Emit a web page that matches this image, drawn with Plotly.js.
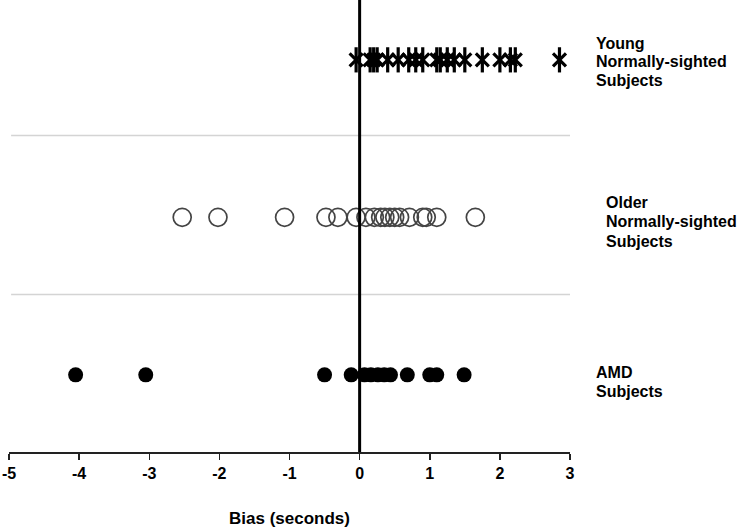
<!DOCTYPE html>
<html>
<head>
<meta charset="utf-8">
<script src="https://cdn.plot.ly/plotly-3.0.1.min.js"></script>
<style>html,body{margin:0;padding:0;background:#fff;}#chart{width:739px;height:528px;}</style>
</head>
<body>
<div id="chart"></div>
<script>
// Row labels (top to bottom)
var groupLabels = ["Young<br>Normally-sighted<br>Subjects", "Older<br>Normally-sighted<br>Subjects", "AMD<br>Subjects"];
var rowPos = [2, 1, 0];

// Bias values (seconds)
var youngBias = [-0.05, 0.15, 0.2, 0.25, 0.4, 0.55, 0.7, 0.8, 0.9, 1.1, 1.15, 1.25, 1.35, 1.5, 1.75, 2.0, 2.15, 2.22, 2.85];
var olderBias = [-2.53, -2.02, -1.07, -0.48, -0.31, -0.05, 0.09, 0.21, 0.3, 0.36, 0.43, 0.5, 0.57, 0.71, 0.9, 0.95, 1.1, 1.65];
var amdBias = [-4.05, -3.05, -0.5, -0.12, 0.07, 0.16, 0.26, 0.35, 0.44, 0.68, 1.0, 1.1, 1.49];

var xTicks = [-5, -4, -3, -2, -1, 0, 1, 2, 3];

function rowArr(vals, pos) { return vals.map(function(){ return pos; }); }

var traces = [
  {x: youngBias, y: rowArr(youngBias, rowPos[0]), mode: 'markers', type: 'scatter', hoverinfo: 'x',
   marker: {symbol: 'x-thin-open', size: 13, color: '#000', line: {color: '#000', width: 3.2}}},
  {x: youngBias, y: rowArr(youngBias, rowPos[0]), mode: 'markers', type: 'scatter', hoverinfo: 'x',
   marker: {symbol: 'line-ns-open', size: 18, color: '#000', line: {color: '#000', width: 3.2}}},
  {x: olderBias, y: rowArr(olderBias, rowPos[1]), mode: 'markers', type: 'scatter', hoverinfo: 'x',
   marker: {symbol: 'circle-open', size: 18, color: '#444', line: {color: '#444', width: 1.7}}},
  {x: amdBias, y: rowArr(amdBias, rowPos[2]), mode: 'markers', type: 'scatter', hoverinfo: 'x',
   marker: {symbol: 'circle', size: 15, color: '#000'}}
];

// label placement: [x (paper), yshift of each line in px]
var labelX = [1.043, 1.061, 1.043];
var labelShifts = [[16, -2, -21], [15, -4, -24], [2, -17]];
var annotations = [];
groupLabels.forEach(function(lbl, i) {
  lbl.split('<br>').forEach(function(line, j) {
    annotations.push({text: line, xref: 'paper', yref: 'y', x: labelX[i], y: rowPos[i], yshift: labelShifts[i][j],
      xanchor: 'left', yanchor: 'middle', align: 'left', showarrow: false,
      font: {family: 'Liberation Sans, Arial', size: 16, color: '#000', weight: 'bold'}});
  });
});

var layout = {
  width: 739, height: 528,
  margin: {l: 9, r: 169, t: 0, b: 76},
  paper_bgcolor: '#fff', plot_bgcolor: '#fff',
  showlegend: false,
  xaxis: {
    range: [-5, 3], tickvals: xTicks, ticktext: xTicks.map(String),
    showgrid: false, zeroline: false, showline: true, linecolor: '#222', linewidth: 1.5,
    ticks: 'outside', ticklen: 6, tickwidth: 1.5, tickcolor: '#222',
    ticklabeloverflow: 'allow',
    tickfont: {family: 'Liberation Sans, Arial', size: 16, color: '#000', weight: 'bold'},
    title: {text: 'Bias (seconds)', standoff: 34, font: {family: 'Liberation Sans, Arial', size: 17, color: '#000', weight: 'bold'}},
    fixedrange: true
  },
  yaxis: {range: [-0.49, 2.38], visible: false, fixedrange: true},
  shapes: [
    {type: 'line', xref: 'x', yref: 'y', x0: -4.97, x1: 3.13, y0: 0.51, y1: 0.51, line: {color: '#d4d4d4', width: 1.5}, layer: 'below'},
    {type: 'line', xref: 'x', yref: 'y', x0: -4.97, x1: 3.13, y0: 1.52, y1: 1.52, line: {color: '#d4d4d4', width: 1.5}, layer: 'below'},
    {type: 'line', xref: 'x', yref: 'paper', x0: 0, x1: 0, y0: 0, y1: 1, line: {color: '#000', width: 3}, layer: 'above'}
  ],
  annotations: annotations
};

Plotly.newPlot('chart', traces, layout, {displayModeBar: false, staticPlot: true});
</script>
</body>
</html>
